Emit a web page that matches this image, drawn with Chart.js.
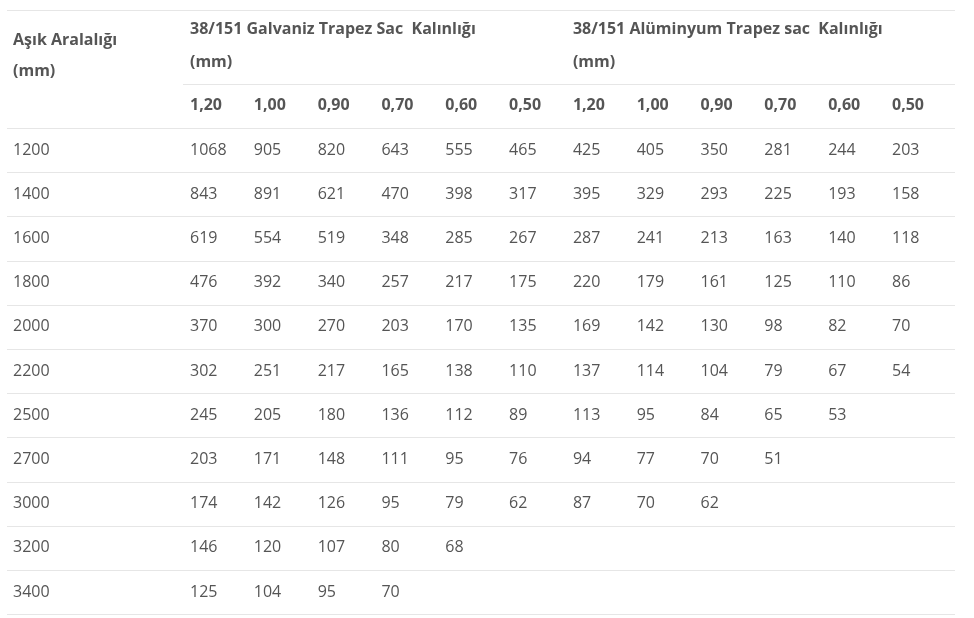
<!DOCTYPE html>
<html><head><meta charset="utf-8">
<script src="https://cdn.jsdelivr.net/npm/chart.js@4"></script>
<style>html,body{margin:0;padding:0;background:#fff}#w{width:974px;height:618px}</style>
</head><body><div id="w"><canvas id="c"></canvas></div>
<script>
const rowLabels = ['1200','1400','1600','1800','2000','2200','2500','2700','3000','3200','3400'];
const thickness = ['1,20','1,00','0,90','0,70','0,60','0,50'];
const groupTitles = ['38/151 Galvaniz Trapez Sac  Kalınlığı', '38/151 Alüminyum Trapez sac  Kalınlığı'];
const firstHeader = ['Aşık Aralalığı', '(mm)'];
const galvaniz = [
 [1068,905,820,643,555,465],
 [843,891,621,470,398,317],
 [619,554,519,348,285,267],
 [476,392,340,257,217,175],
 [370,300,270,203,170,135],
 [302,251,217,165,138,110],
 [245,205,180,136,112,89],
 [203,171,148,111,95,76],
 [174,142,126,95,79,62],
 [146,120,107,80,68,null],
 [125,104,95,70,null,null]
];
const aluminyum = [
 [425,405,350,281,244,203],
 [395,329,293,225,193,158],
 [287,241,213,163,140,118],
 [220,179,161,125,110,86],
 [169,142,130,98,82,70],
 [137,114,104,79,67,54],
 [113,95,84,65,53,null],
 [94,77,70,51,null,null],
 [87,70,62,null,null,null],
 [null,null,null,null,null,null],
 [null,null,null,null,null,null]
];
const pts = [];
rowLabels.forEach((r,i)=>{
  pts.push({x:-2.773,y:i,t:r});
  for(let j=0;j<6;j++){
    if(galvaniz[i][j]!=null) pts.push({x:j,y:i,t:String(galvaniz[i][j])});
    if(aluminyum[i][j]!=null) pts.push({x:j+6,y:i,t:String(aluminyum[i][j])});
  }
});
thickness.concat(thickness).forEach((t,j)=>pts.push({x:j,y:-1,t:t,b:true}));
const FONT='"Open Sans", sans-serif';
const tablePlugin={id:'tbl',afterDatasetsDraw(chart){
  const ctx=chart.ctx, xs=chart.scales.x, ys=chart.scales.y;
  ctx.save();
  ctx.strokeStyle='#e6e6e6'; ctx.lineWidth=1;
  const hl=(yv,x0)=>{const y=Math.round(ys.getPixelForValue(yv))+0.5;ctx.beginPath();ctx.moveTo(x0,y);ctx.lineTo(955,y);ctx.stroke();};
  hl(-3.167,7);
  hl(-1.5,183);
  for(let i=-0.5;i<rowLabels.length;i++) hl(i,7);
  const meta=chart.getDatasetMeta(0);
  ctx.textBaseline='middle'; ctx.textAlign='left';
  meta.data.forEach((el,k)=>{
    const p=pts[k];
    ctx.fillStyle='#555';
    ctx.font=(p.b?'bold ':'')+'16px '+FONT;
    ctx.fillText(p.t,el.x,el.y);
  });
  ctx.font='bold 16px '+FONT; ctx.fillStyle='#555';
  ctx.fillText(firstHeader[0],xs.getPixelForValue(-2.773),ys.getPixelForValue(-2.48));
  ctx.fillText(firstHeader[1],xs.getPixelForValue(-2.773),ys.getPixelForValue(-1.78));
  groupTitles.forEach((g,k)=>{
    const x=xs.getPixelForValue(k*6);
    ctx.fillText(g,x,ys.getPixelForValue(-2.72));
    ctx.fillText('(mm)',x,ys.getPixelForValue(-1.99));
  });
  ctx.restore();
}};
new Chart(document.getElementById('c'),{
  type:'scatter',
  data:{datasets:[{data:pts,pointRadius:0,pointHoverRadius:0}]},
  options:{responsive:true,maintainAspectRatio:false,animation:false,
    layout:{padding:0},
    plugins:{legend:{display:false},tooltip:{enabled:false}},
    scales:{
      x:{type:'linear',display:false,min:-2.977,max:12.285},
      y:{type:'linear',display:false,reverse:true,min:-3.394,max:10.588}
    }},
  plugins:[tablePlugin]
});
</script></body></html>
